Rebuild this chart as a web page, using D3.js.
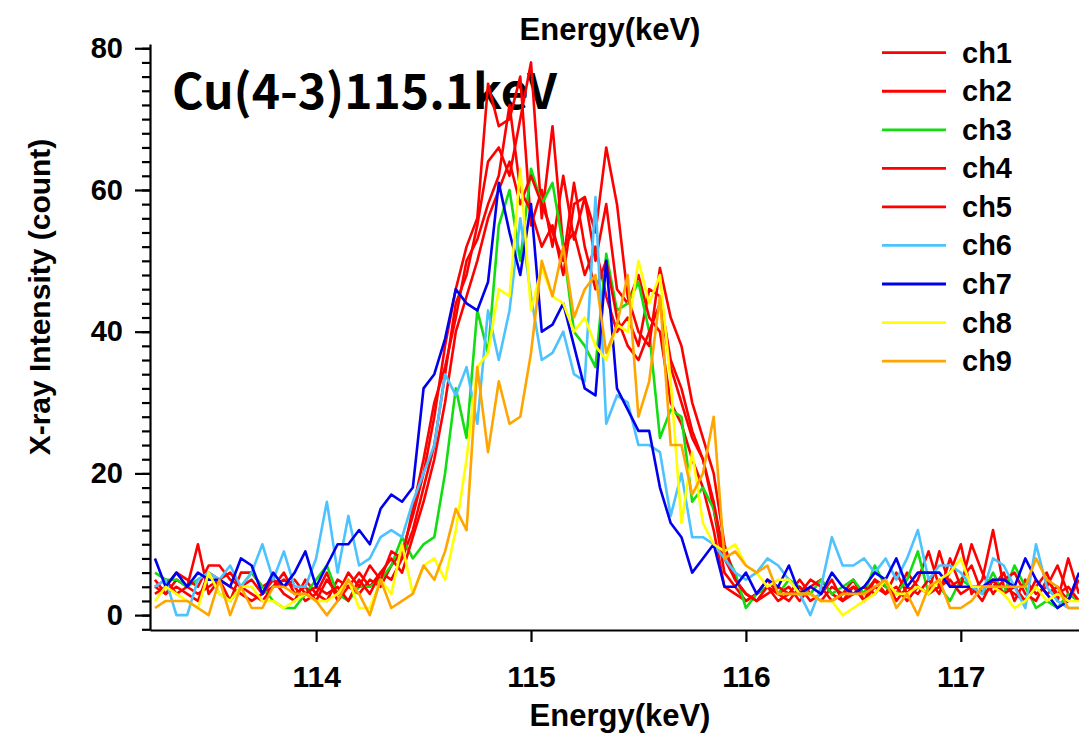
<!DOCTYPE html>
<html>
<head>
<meta charset="utf-8">
<script src="https://cdn.jsdelivr.net/npm/d3@7"></script>
<style>
  body { margin: 0; background: #fff; }
  svg text { font-family: "Liberation Sans", Arial, sans-serif; font-weight: bold; fill: #000; }
  .line-path { fill: none; stroke-width: 2.6; stroke-linejoin: round; }
</style>
</head>
<body>
<div id="graph"></div>
<script>
// energy bins (keV)
const energy = [
  113.25,113.30,113.35,113.40,113.45,113.50,113.55,113.60,113.65,113.70,
  113.75,113.80,113.85,113.90,113.95,114.00,114.05,114.10,114.15,114.20,
  114.25,114.30,114.35,114.40,114.45,114.50,114.55,114.60,114.65,114.70,
  114.75,114.80,114.85,114.90,114.95,115.00,115.05,115.10,115.15,115.20,
  115.25,115.30,115.35,115.40,115.45,115.50,115.55,115.60,115.65,115.70,
  115.75,115.80,115.85,115.90,115.95,116.00,116.05,116.10,116.15,116.20,
  116.25,116.30,116.35,116.40,116.45,116.50,116.55,116.60,116.65,116.70,
  116.75,116.80,116.85,116.90,116.95,117.00,117.05,117.10,117.15,117.20,
  117.25,117.30,117.35,117.40,117.45,117.50,117.55
];

// counts per channel
const ch1 = [
  4,3,5,4,10,3,5,2,6,6, 4,5,3,2,5,3,6,2,4,3, 5,4,7,9,14,20,28,38,46,52,
  56,75,69,70,76,55,60,52,62,53, 59,50,58,46,44,48,42,40,30,27, 22,18,12,4,3,2,3,4,2,3,
  5,3,2,4,3,5,2,4,3,6, 3,5,9,4,6,10,3,5,12,4, 3,2,4,6,2,8,3
];
const ch2 = [
  5,3,4,3,2,6,5,4,3,2, 3,4,5,4,2,3,2,5,4,6, 4,6,5,8,12,18,24,34,44,48,
  55,64,66,62,70,78,56,69,52,54, 48,52,45,40,42,38,46,45,36,32, 26,22,15,6,4,2,3,5,3,4,
  2,4,5,3,2,4,3,5,4,3, 6,4,3,9,4,5,7,3,4,6, 2,5,3,4,7,3,2
];
const ch3 = [
  6,5,5,4,5,6,3,2,4,6, 4,2,1,1,3,5,7,3,2,4, 4,5,7,11,8,10,11,20,32,25,
  43,37,55,60,50,63,58,61,52,40, 38,35,51,43,44,47,40,25,29,28, 16,18,15,9,6,1,3,4,3,5,
  4,3,5,3,4,5,3,7,4,3, 5,9,3,4,2,5,4,3,6,3, 7,4,1,2,1,3,2
];
const ch4 = [
  3,4,6,5,4,7,7,5,4,3, 2,4,6,3,4,2,5,3,6,4, 7,5,9,8,15,22,30,35,42,50,
  53,58,62,72,60,57,52,55,48,58, 59,54,66,58,45,40,38,49,42,38, 30,25,20,10,5,3,2,4,3,2,
  4,2,3,5,2,3,4,3,5,2, 4,3,5,3,8,4,10,6,3,5, 6,3,2,5,3,4,2
];
const ch5 = [
  4,5,3,4,3,4,5,6,4,5, 3,5,4,5,3,4,3,4,2,5, 3,6,8,6,11,16,22,30,40,45,
  50,56,60,64,58,62,58,54,50,61, 52,46,50,42,38,36,40,44,35,30, 25,22,16,8,5,3,2,3,4,3,
  3,5,4,2,3,4,2,5,3,4, 2,4,3,4,5,3,4,2,5,3, 4,2,5,3,4,2,5
];
const ch6 = [
  4,5,0,0,5,6,5,7,4,6, 10,5,9,4,4,8,16,6,14,7, 8,11,12,11,16,20,24,34,31,35,
  27,43,36,43,56,45,36,37,40,34, 33,59,27,31,30,24,24,23,14,20, 11,11,10,8,6,5,6,8,7,5,
  3,0,4,11,7,7,8,6,8,5, 8,12,5,7,7,6,4,3,8,7, 4,1,10,4,2,1,1
];
const ch7 = [
  8,4,6,4,6,5,5,4,8,7, 3,6,4,6,9,4,7,10,10,12, 10,15,17,16,18,32,34,39,46,44,
  43,47,61,54,48,58,40,41,44,38, 32,31,50,32,29,26,26,18,13,11, 6,8,10,4,4,6,3,5,4,7,
  3,4,3,6,4,3,4,6,5,8, 4,6,6,6,4,4,4,4,5,5, 4,8,5,3,1,2,6
];
const ch8 = [
  2,4,3,2,1,6,3,2,4,4, 2,2,1,2,3,2,2,3,5,1, 1,5,3,10,3,7,8,5,12,22,
  35,37,46,45,63,43,49,45,44,40, 42,38,36,41,40,50,44,48,33,13, 23,13,10,9,10,7,6,4,5,5,
  3,3,2,2,0,1,2,3,5,3, 3,4,3,5,6,8,4,4,4,3, 1,2,4,2,3,2,2
];
const ch9 = [
  1,2,2,2,1,0,5,0,4,1, 1,4,4,3,3,2,0,2,5,3, 0,5,1,2,3,7,5,9,15,12,
  35,23,33,27,28,37,50,45,52,42, 46,48,37,41,48,28,33,45,24,24, 17,20,28,8,9,7,6,7,3,3,
  3,3,2,2,3,3,3,4,5,1, 3,0,4,5,1,1,2,4,4,4, 4,4,8,5,4,1,1
];

const channelNames = ["ch1","ch2","ch3","ch4","ch5","ch6","ch7","ch8","ch9"];
const channelData = [ch1, ch2, ch3, ch4, ch5, ch6, ch7, ch8, ch9];
const colors = ["#ff0000","#ff0000","#11dd11","#ff0000","#ff0000","#4cc2ff","#0000ee","#ffff00","#ffa500"];

// axis ticks
const xTicks = [114, 115, 116, 117];
const yTicks = [0, 20, 40, 60, 80];

const w = 1079;
const h = 735;

const svg = d3.select("#graph")
    .append("svg")
    .attr("width", w)
    .attr("height", h);

// x scale
const xScale = d3.scaleLinear()
    .domain([113.227, 117.55])
    .range([150, 1079]);
// y scale
const yScale = d3.scaleLinear()
    .domain([-2.1, 80.6])
    .range([630, 44]);

// title inside the plot (lines go over it)
svg.append("text")
    .attr("x", 172)
    .attr("y", 109)
    .style("font-family", "'Noto Sans CJK JP', 'Noto Sans', sans-serif")
    .style("font-size", "48px")
    .text("Cu(4-3)115.1keV");

// x axis
const xAxis = d3.axisBottom(xScale)
    .tickValues(xTicks)
    .tickSize(12)
    .tickSizeOuter(0)
    .tickPadding(24)
    .tickFormat(d3.format("d"));
const xAxisG = svg.append("g")
    .attr("transform", "translate(0,630)")
    .call(xAxis);
xAxisG.selectAll("text").style("font-size", "30px");

// y axis minor ticks
const yMinor = d3.axisLeft(yScale)
    .tickValues(d3.range(-2, 81, 2))
    .tickSize(8)
    .tickSizeOuter(0)
    .tickFormat("");
svg.append("g")
    .attr("transform", "translate(150,0)")
    .call(yMinor)
    .select(".domain").remove();

// y axis
const yAxis = d3.axisLeft(yScale)
    .tickValues(yTicks)
    .tickSize(15)
    .tickSizeOuter(0)
    .tickPadding(12);
const yAxisG = svg.append("g")
    .attr("transform", "translate(150,0)")
    .call(yAxis);
yAxisG.selectAll("text").style("font-size", "29px");

svg.selectAll(".domain, .tick line")
    .attr("stroke", "#000")
    .attr("stroke-width", 2.2);

// axis titles
svg.append("text")
    .attr("x", 620)
    .attr("y", 726)
    .attr("text-anchor", "middle")
    .style("font-size", "31px")
    .text("Energy(keV)");
svg.append("text")
    .attr("x", 610)
    .attr("y", 40)
    .attr("text-anchor", "middle")
    .style("font-size", "31px")
    .text("Energy(keV)");
svg.append("text")
    .attr("transform", "translate(50,297) rotate(-90)")
    .attr("text-anchor", "middle")
    .style("font-size", "30px")
    .text("X-ray Intensity (count)");

// lines for each channel
const lineGenerator = d3.line()
    .x((d, i) => xScale(energy[i]))
    .y(d => yScale(d));

svg.append("clipPath").attr("id", "plot-clip")
    .append("rect")
    .attr("x", 151).attr("y", 0)
    .attr("width", 928).attr("height", 629);

const lineG = svg.append("g").attr("clip-path", "url(#plot-clip)");
channelData.forEach(function (values, k) {
    lineG.append("path")
        .attr("class", "line-path")
        .attr("stroke", colors[k])
        .attr("d", lineGenerator(values));
});

// legend
const legend = svg.selectAll(".legend")
    .data(channelNames)
    .enter()
    .append("g")
    .attr("class", "legend")
    .attr("transform", (d, i) => `translate(882, ${52.7 + i * 38.55})`);
legend.append("line")
    .attr("x1", 0).attr("x2", 64)
    .attr("stroke", (d, i) => colors[i])
    .attr("stroke-width", 2.8);
legend.append("text")
    .attr("x", 80)
    .attr("y", 10)
    .style("font-size", "29px")
    .text(d => d);
</script>
</body>
</html>
